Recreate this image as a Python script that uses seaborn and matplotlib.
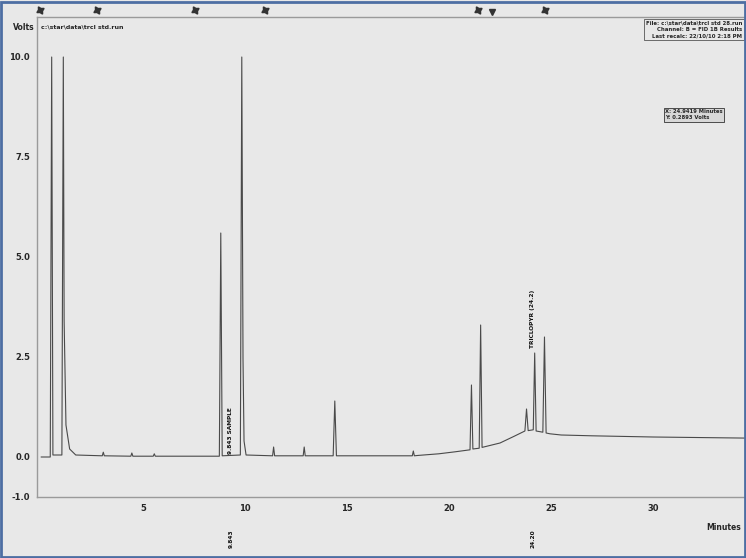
import matplotlib
matplotlib.use("Agg")
import matplotlib.pyplot as plt
import seaborn as sns
import pandas as pd
from matplotlib.patches import Rectangle

# chromatogram trace (minutes, volts)
time_min = [0.0, 0.45, 0.52, 0.58, 1.02, 1.09, 1.13, 1.22, 1.4, 1.7,
            3.0, 3.05, 3.1, 4.4, 4.45, 4.5, 5.5, 5.55, 5.6,
            8.74, 8.81, 8.88, 9.77, 9.84, 9.9, 9.95, 10.05,
            11.35, 11.4, 11.45, 12.85, 12.9, 12.95, 14.32, 14.4, 14.48,
            18.2, 18.25, 18.3, 18.5, 19.5, 20.3,
            21.03, 21.1, 21.17, 21.48, 21.55, 21.62, 22.5, 23.2,
            23.72, 23.8, 23.88, 24.13, 24.2, 24.27, 24.6, 24.68, 24.76,
            24.95, 25.5, 27.0, 30.0, 35.0]
volts = [0.0, 0.0, 10.0, 0.05, 0.05, 10.0, 3.4, 0.8, 0.2, 0.05,
         0.03, 0.12, 0.03, 0.02, 0.1, 0.02, 0.02, 0.08, 0.02,
         0.02, 5.6, 0.03, 0.05, 10.0, 2.45, 0.4, 0.05,
         0.03, 0.25, 0.03, 0.03, 0.25, 0.03, 0.03, 1.4, 0.03,
         0.03, 0.15, 0.03, 0.04, 0.08, 0.13,
         0.18, 1.8, 0.2, 0.22, 3.3, 0.24, 0.35, 0.52,
         0.65, 1.2, 0.66, 0.68, 2.6, 0.65, 0.62, 3.0, 0.6,
         0.58, 0.55, 0.53, 0.5, 0.47]

x_ticks = [5, 10, 15, 20, 25, 30]
y_ticks = [-1.0, 0.0, 2.5, 5.0, 7.5, 10.0]
y_labels = ["-1.0", "0.0", "2.5", "5.0", "7.5", "10.0"]

# integration event marks along the top
event_times = [-0.05, 2.75, 7.55, 11.0, 21.4, 24.7]
event_drop = [22.1]

# peak labels
peak_names = ["9.843 SAMPLE", "TRICLOPYR (24.2)"]
peak_name_t = [9.3, 24.1]
peak_name_y = [0.65, 3.45]
rt_labels = ["9.843", "24.20"]
rt_t = [9.3, 24.1]

df = pd.DataFrame({"time": time_min, "volts": volts})

sns.set_style("white")
plt.rcParams["font.family"] = ["DejaVu Sans"]

bg = "#e8e8e8"
fig = plt.figure(figsize=(7.46, 5.58), dpi=100, facecolor=bg)
ax = fig.add_axes([37 / 746, 1 - 497 / 558, 1 - 37 / 746, (497 - 17) / 558])
ax.set_facecolor(bg)

sns.lineplot(data=df, x="time", y="volts", sort=False, estimator=None,
             color="#4a4a4a", linewidth=0.8, ax=ax)

ax.set_xlim(-0.2, 34.56)
ax.set_ylim(-1.0, 11.0)
ax.set_xticks(x_ticks)
ax.set_xticklabels([str(t) for t in x_ticks], fontsize=6, fontweight="bold")
ax.set_yticks(y_ticks)
ax.set_yticklabels(y_labels, fontsize=6, fontweight="bold")
ax.tick_params(axis="both", length=3, width=0.7, color="#888888", pad=2)
ax.set_xlabel("")
ax.set_ylabel("")

for side in ["left", "bottom", "top"]:
    ax.spines[side].set_color("#9a9a9a")
    ax.spines[side].set_linewidth(1.0)
ax.spines["right"].set_visible(False)

# axis captions
fig.text(13 / 746, 1 - 27 / 558, "Volts", fontsize=5.5, fontweight="bold", va="center")
fig.text(41 / 746, 1 - 27 / 558, "c:\\star\\data\\trcl std.run", fontsize=4.5,
         fontweight="bold", va="center")
fig.text(741 / 746, 1 - 528 / 558, "Minutes", fontsize=5.5, fontweight="bold",
         va="center", ha="right")

# file info box, upper right
ax.text(0.995, 0.992,
        "File: c:\\star\\data\\trcl std 28.run\nChannel: B = FID 1B Results\nLast recalc: 22/10/10 2:18 PM",
        transform=ax.transAxes, ha="right", va="top", fontsize=3.9, fontweight="bold",
        linespacing=1.3,
        bbox=dict(boxstyle="square,pad=0.3", facecolor=bg, edgecolor="#555555", linewidth=0.6))

# cursor readout box
ax.text(30.6, 8.56, "X: 24.9419 Minutes\nY: 0.2893 Volts", fontsize=3.8, fontweight="bold",
        ha="left", va="center", linespacing=1.3,
        bbox=dict(boxstyle="square,pad=0.25", facecolor="#d8d8d8", edgecolor="#333333", linewidth=0.6))

# peak labels
for name, t, y in zip(peak_names, peak_name_t, peak_name_y):
    ax.text(t, y, name, rotation=90, fontsize=4.2, fontweight="bold",
            ha="center", va="center", color="#111111")
for lab, t in zip(rt_labels, rt_t):
    ax.text(t, -2.05, lab, rotation=90, fontsize=4.2, fontweight="bold",
            ha="center", va="center", color="#111111", clip_on=False)

# event marks above the top frame
ax.plot(event_times, [11.18] * len(event_times), linestyle="none", marker=(4, 1, 30),
        markersize=6, color="#333333", clip_on=False)
ax.plot(event_drop, [11.12] * len(event_drop), linestyle="none", marker="v",
        markersize=4, color="#333333", clip_on=False)

# scan border
fig.patches.append(Rectangle((0.002, 0.002), 0.996, 0.994, transform=fig.transFigure,
                             fill=False, edgecolor="#4d6ea3", linewidth=2.0))

fig.savefig("out.png", dpi=100, facecolor=bg)
